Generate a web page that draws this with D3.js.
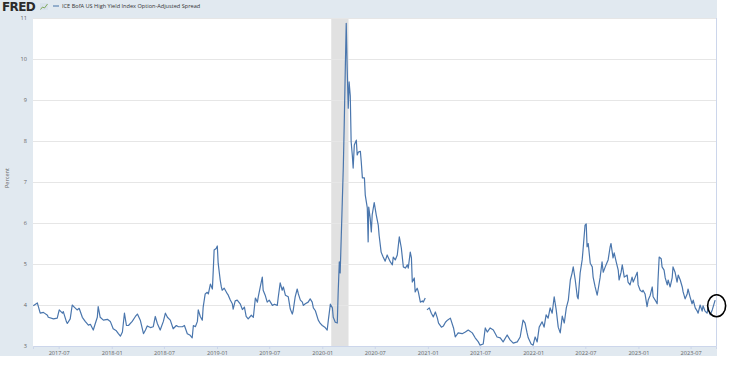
<!DOCTYPE html>
<html>
<head>
<meta charset="utf-8">
<script src="https://cdn.jsdelivr.net/npm/d3@7/dist/d3.min.js"></script>
<style>
body{margin:0;background:#fff;}
text{font-family:"Open Sans",sans-serif;}
</style>
</head>
<body>
<script>
//chart data
var seriesName = "ICE BofA US High Yield Index Option-Adjusted Spread";
var yLabel = "Percent";
var yTicks = [3, 4, 5, 6, 7, 8, 9, 10, 11];
var xTickDates = ["2017-07-01","2018-01-01","2018-07-01","2019-01-01","2019-07-01","2020-01-01","2020-07-01","2021-01-01","2021-07-01","2022-01-01","2022-07-01","2023-01-01","2023-07-01"];
var xTickLabels = ["2017-07","2018-01","2018-07","2019-01","2019-07","2020-01","2020-07","2021-01","2021-07","2022-01","2022-07","2023-01","2023-07"];
var dateRange = ["2017-04-03", "2023-09-27"];
var recession = ["2020-02-01", "2020-04-01"];

//[date, percent]
var observations = [
["2017-04-04",3.98],["2017-04-18",4.05],["2017-04-28",3.80],["2017-05-09",3.82],["2017-05-23",3.75],["2017-05-26",3.70],
["2017-06-13",3.66],["2017-06-26",3.68],["2017-07-03",3.88],["2017-07-14",3.80],["2017-07-17",3.84],["2017-07-28",3.59],
["2017-07-31",3.55],["2017-08-10",3.66],["2017-08-17",4.00],["2017-08-24",3.95],["2017-09-03",3.88],["2017-09-10",3.92],
["2017-09-21",3.70],["2017-10-01",3.60],["2017-10-12",3.51],["2017-10-19",3.53],["2017-10-29",3.39],["2017-11-05",3.55],
["2017-11-12",3.70],["2017-11-15",3.96],["2017-11-22",3.70],["2017-12-03",3.63],["2017-12-17",3.65],["2017-12-27",3.60],
["2018-01-06",3.42],["2018-01-17",3.37],["2018-01-24",3.30],["2018-01-31",3.24],["2018-02-07",3.34],["2018-02-14",3.80],
["2018-02-21",3.50],["2018-02-28",3.50],["2018-03-13",3.60],["2018-03-24",3.72],["2018-03-31",3.78],["2018-04-10",3.63],
["2018-04-21",3.30],["2018-04-28",3.39],["2018-05-04",3.49],["2018-05-15",3.45],["2018-05-25",3.47],["2018-06-01",3.72],
["2018-06-08",3.55],["2018-06-18",3.39],["2018-06-29",3.60],["2018-07-06",3.80],["2018-07-13",3.70],["2018-07-23",3.63],
["2018-08-02",3.42],["2018-08-13",3.50],["2018-08-20",3.47],["2018-09-03",3.47],["2018-09-10",3.50],["2018-09-20",3.30],
["2018-09-30",3.26],["2018-10-07",3.20],["2018-10-11",3.50],["2018-10-18",3.47],["2018-10-25",3.60],["2018-10-28",3.88],
["2018-11-04",3.72],["2018-11-11",3.63],["2018-11-14",3.95],["2018-11-21",4.27],["2018-11-28",4.31],["2018-12-02",4.27],
["2018-12-09",4.51],["2018-12-16",4.39],["2018-12-19",4.85],["2018-12-22",5.34],["2018-12-29",5.38],["2019-01-02",5.44],
["2019-01-05",5.02],["2019-01-12",4.61],["2019-01-16",4.44],["2019-01-19",4.36],["2019-01-26",4.41],["2019-02-06",4.27],
["2019-02-09",4.24],["2019-02-16",4.12],["2019-02-23",4.03],["2019-02-26",3.90],["2019-03-05",4.10],["2019-03-12",4.12],
["2019-03-23",4.02],["2019-03-30",3.89],["2019-04-06",3.95],["2019-04-12",3.72],["2019-04-19",3.66],["2019-04-30",3.75],
["2019-05-07",3.70],["2019-05-14",4.17],["2019-05-21",4.07],["2019-05-24",4.20],["2019-05-31",4.44],["2019-06-07",4.68],
["2019-06-10",4.36],["2019-06-17",4.24],["2019-06-24",4.07],["2019-07-01",4.12],["2019-07-12",3.99],["2019-07-19",4.02],
["2019-07-29",3.99],["2019-08-01",4.17],["2019-08-08",4.54],["2019-08-15",4.36],["2019-08-19",4.44],["2019-08-26",4.24],
["2019-09-05",4.20],["2019-09-12",3.90],["2019-09-19",3.78],["2019-09-22",3.86],["2019-09-29",4.20],["2019-10-06",4.39],
["2019-10-10",4.27],["2019-10-17",4.12],["2019-10-24",4.07],["2019-10-27",3.99],["2019-11-03",4.03],["2019-11-13",4.07],
["2019-11-20",4.15],["2019-11-27",4.07],["2019-12-01",3.93],["2019-12-08",3.86],["2019-12-18",3.63],["2019-12-25",3.55],
["2020-01-01",3.50],["2020-01-11",3.45],["2020-01-18",3.39],["2020-01-22",3.63],["2020-01-29",4.02],["2020-02-05",3.93],
["2020-02-08",3.70],["2020-02-15",3.58],["2020-02-22",3.56],["2020-02-25",4.30],["2020-02-29",5.05],["2020-03-03",4.78],
["2020-03-10",6.44],["2020-03-14",7.40],["2020-03-17",8.39],["2020-03-21",9.85],["2020-03-24",10.87],["2020-03-27",9.85],
["2020-03-31",8.80],["2020-04-03",9.44],["2020-04-07",9.10],["2020-04-10",7.98],["2020-04-14",7.66],["2020-04-17",7.34],
["2020-04-21",7.90],["2020-04-28",8.02],["2020-05-01",7.66],["2020-05-05",7.73],["2020-05-12",7.75],["2020-05-15",7.50],
["2020-05-19",7.10],["2020-05-26",7.10],["2020-05-29",6.68],["2020-06-05",6.37],["2020-06-08",5.54],["2020-06-10",6.39],
["2020-06-15",6.12],["2020-06-19",5.78],["2020-06-22",6.20],["2020-06-29",6.50],["2020-07-06",6.20],["2020-07-13",5.95],
["2020-07-16",5.70],["2020-07-23",5.29],["2020-07-30",5.17],["2020-08-06",5.07],["2020-08-13",5.22],["2020-08-17",5.15],
["2020-08-24",5.05],["2020-08-31",4.98],["2020-09-03",5.17],["2020-09-10",5.10],["2020-09-17",5.22],["2020-09-24",5.66],
["2020-10-01",5.39],["2020-10-08",4.93],["2020-10-15",4.90],["2020-10-22",4.98],["2020-10-25",4.90],["2020-11-01",5.29],
["2020-11-05",5.15],["2020-11-08",4.56],["2020-11-15",4.66],["2020-11-18",4.32],["2020-11-25",4.41],["2020-11-29",4.32],
["2020-12-06",4.07],["2020-12-13",4.10],["2020-12-16",4.07],["2020-12-23",4.17],["2020-12-26",null],["2020-12-29",3.88],
["2021-01-06",3.93],["2021-01-13",3.80],["2021-01-20",3.71],["2021-01-27",3.83],["2021-02-03",3.68],["2021-02-07",3.56],
["2021-02-17",3.46],["2021-02-24",3.49],["2021-03-03",3.58],["2021-03-10",3.63],["2021-03-20",3.68],["2021-03-31",3.44],
["2021-04-06",3.22],["2021-04-16",3.32],["2021-04-30",3.30],["2021-05-11",3.34],["2021-05-21",3.39],["2021-06-04",3.32],
["2021-06-14",3.20],["2021-06-25",3.10],["2021-07-01",3.02],["2021-07-12",3.05],["2021-07-19",3.44],["2021-07-26",3.34],
["2021-08-05",3.44],["2021-08-16",3.39],["2021-08-29",3.22],["2021-09-09",3.20],["2021-09-19",3.10],["2021-10-03",3.27],
["2021-10-13",3.15],["2021-10-24",3.07],["2021-11-07",3.10],["2021-11-17",3.22],["2021-11-27",3.63],["2021-12-04",3.56],
["2021-12-11",3.32],["2021-12-15",3.20],["2021-12-25",3.05],["2022-01-01",3.02],["2022-01-08",3.22],["2022-01-15",3.10],
["2022-01-22",3.46],["2022-02-01",3.59],["2022-02-08",3.46],["2022-02-15",3.76],["2022-02-22",3.68],["2022-03-01",3.93],
["2022-03-08",3.80],["2022-03-15",4.20],["2022-03-22",3.88],["2022-03-29",3.46],["2022-04-05",3.32],["2022-04-12",3.73],
["2022-04-19",3.56],["2022-04-26",3.93],["2022-05-03",4.12],["2022-05-10",4.61],["2022-05-16",4.78],["2022-05-20",4.93],
["2022-05-27",4.61],["2022-06-03",4.20],["2022-06-06",4.15],["2022-06-13",4.78],["2022-06-20",5.10],["2022-06-23",5.34],
["2022-06-30",5.95],["2022-07-04",5.98],["2022-07-07",5.42],["2022-07-11",5.50],["2022-07-18",5.02],["2022-07-25",4.93],
["2022-07-28",4.68],["2022-08-04",4.44],["2022-08-11",4.24],["2022-08-14",4.36],["2022-08-21",4.66],["2022-08-28",5.05],
["2022-09-01",4.80],["2022-09-08",4.93],["2022-09-15",5.05],["2022-09-18",5.10],["2022-09-25",5.42],["2022-09-28",5.50],
["2022-10-05",5.15],["2022-10-09",5.27],["2022-10-16",5.05],["2022-10-23",4.85],["2022-10-26",4.61],["2022-11-02",4.80],
["2022-11-06",4.98],["2022-11-13",4.68],["2022-11-23",4.73],["2022-11-26",4.56],["2022-12-03",4.49],["2022-12-10",4.68],
["2022-12-14",4.56],["2022-12-21",4.68],["2022-12-28",4.80],["2022-12-31",4.49],["2023-01-07",4.36],["2023-01-14",4.32],
["2023-01-17",4.36],["2023-01-24",4.27],["2023-01-31",3.96],["2023-02-04",4.12],["2023-02-11",4.24],["2023-02-18",4.44],
["2023-02-21",4.20],["2023-02-28",4.12],["2023-03-07",4.03],["2023-03-10",4.61],["2023-03-14",5.17],["2023-03-21",5.13],
["2023-03-24",4.93],["2023-03-31",4.85],["2023-04-04",4.66],["2023-04-11",4.49],["2023-04-14",4.61],["2023-04-21",4.44],
["2023-04-28",4.66],["2023-05-01",4.93],["2023-05-08",4.80],["2023-05-15",4.56],["2023-05-19",4.73],["2023-05-26",4.61],
["2023-06-02",4.44],["2023-06-05",4.32],["2023-06-12",4.15],["2023-06-19",4.27],["2023-06-22",4.39],["2023-06-29",4.20],
["2023-07-06",4.03],["2023-07-10",4.12],["2023-07-17",3.93],["2023-07-24",3.85],["2023-07-27",3.80],["2023-08-03",4.00],
["2023-08-10",3.85],["2023-08-13",3.98],["2023-08-20",3.85],["2023-08-27",3.80],["2023-08-31",3.93],["2023-09-07",3.76],
["2023-09-14",3.88],["2023-09-24",4.12]
];

var width = 743,
    height = 371;

var parseDate = d3.timeParse("%Y-%m-%d");

var data = observations.map(function(d){
    return {date: parseDate(d[0]), value: d[1]};
});

var svg = d3.select("body")
    .append("svg")
    .attr("width", width)
    .attr("height", height);

//plot box
var plot = {left: 33, right: 716, top: 18, bottom: 346};

var x = d3.scaleTime()
    .domain(dateRange.map(parseDate))
    .range([plot.left, plot.right]);

var y = d3.scaleLinear()
    .domain([3, 11])
    .range([plot.bottom, plot.top]);

//light blue frame behind everything
svg.append("rect")
    .attr("x", 0).attr("y", 0)
    .attr("width", 717).attr("height", 356)
    .attr("fill", "#e1e9f0");

svg.append("rect")
    .attr("x", plot.left).attr("y", plot.top)
    .attr("width", plot.right - plot.left)
    .attr("height", plot.bottom - plot.top)
    .attr("fill", "#ffffff");

//recession shading
svg.append("rect")
    .attr("x", x(parseDate(recession[0])))
    .attr("y", plot.top)
    .attr("width", x(parseDate(recession[1])) - x(parseDate(recession[0])))
    .attr("height", plot.bottom - plot.top)
    .attr("fill", "#e1e1e1");

//gridlines + y labels
var yAxis = d3.axisLeft(y)
    .tickValues(yTicks)
    .tickSize(-(plot.right - plot.left))
    .tickPadding(6);

var gy = svg.append("g")
    .attr("transform", "translate(" + plot.left + ",0)")
    .call(yAxis);
gy.select(".domain").remove();
gy.selectAll(".tick line").attr("stroke", "#e6e6e6").attr("stroke-width", 1);
gy.selectAll(".tick text")
    .attr("fill", "#666666")
    .style("font-size", "5.6px");

//x axis
var xAxis = d3.axisBottom(x)
    .tickValues(xTickDates.map(parseDate))
    .tickFormat(function(d, i){ return xTickLabels[i]; })
    .tickSize(3)
    .tickPadding(2);

var gx = svg.append("g")
    .attr("transform", "translate(0," + plot.bottom + ")")
    .call(xAxis);
gx.select(".domain").attr("stroke", "#ccd6eb");
gx.selectAll(".tick line").attr("stroke", "#ccd6eb");
gx.selectAll(".tick text")
    .attr("fill", "#666666")
    .style("font-size", "5.6px");

//right border of plot
svg.append("line")
    .attr("x1", plot.right + 0.5).attr("x2", plot.right + 0.5)
    .attr("y1", plot.top).attr("y2", plot.bottom)
    .attr("stroke", "#ccd6eb");

svg.append("text")
    .attr("transform", "translate(9,178) rotate(-90)")
    .attr("text-anchor", "middle")
    .attr("fill", "#666666")
    .style("font-size", "5.6px")
    .text(yLabel);

//series line
var line = d3.line()
    .defined(function(d){ return d.value !== null; })
    .x(function(d){ return x(d.date); })
    .y(function(d){ return y(d.value); });

svg.append("path")
    .datum(data)
    .attr("fill", "none")
    .attr("stroke", "#4a76ad")
    .attr("stroke-width", 1.2)
    .attr("stroke-linejoin", "round")
    .attr("d", line);

//header: logo and legend
svg.append("text")
    .attr("x", 2).attr("y", 10.5)
    .attr("fill", "#2b2b2b")
    .style("font-family", "'DejaVu Sans', sans-serif")
    .style("font-weight", "bold")
    .style("font-size", "12px")
    .style("letter-spacing", "-0.6px")
    .text("FRED");

var icon = svg.append("g").attr("transform", "translate(40,3)");
icon.append("rect")
    .attr("width", 8).attr("height", 7)
    .attr("fill", "#d9e2ec");
icon.append("polyline")
    .attr("points", "0.5,6.5 2.5,4 4.5,5 7.5,1")
    .attr("fill", "none")
    .attr("stroke", "#6a9a3a")
    .attr("stroke-width", 0.8);

svg.append("line")
    .attr("x1", 53).attr("x2", 59)
    .attr("y1", 6).attr("y2", 6)
    .attr("stroke", "#4572a7")
    .attr("stroke-width", 1);

svg.append("text")
    .attr("x", 62).attr("y", 8)
    .attr("fill", "#333333")
    .style("font-size", "5.6px")
    .text(seriesName);

//hand drawn circle around the last value
svg.append("ellipse")
    .attr("cx", x(parseDate(observations[observations.length - 1][0])) + 1.5)
    .attr("cy", y(3.98))
    .attr("rx", 9).attr("ry", 11)
    .attr("fill", "none")
    .attr("stroke", "#000000")
    .attr("stroke-width", 1.6);
</script>
</body>
</html>
